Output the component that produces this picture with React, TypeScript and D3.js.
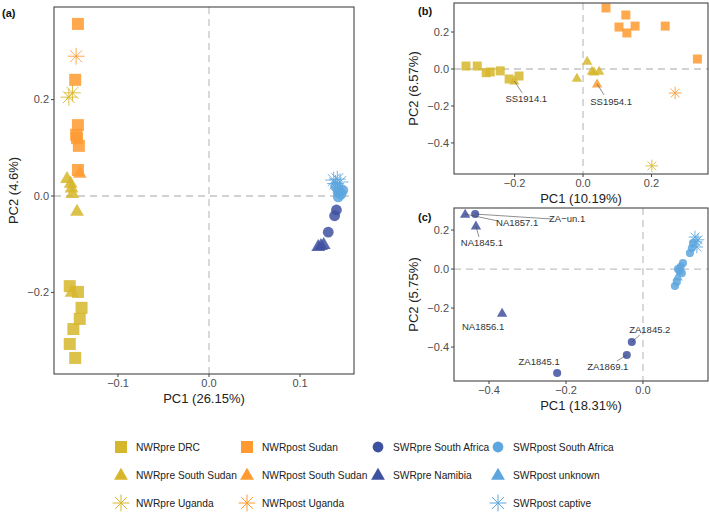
import * as d3 from 'd3'

// group names, legend order is column by column
const legendCols = [
  ['NWRpre DRC', 'NWRpre South Sudan', 'NWRpre Uganda'],
  ['NWRpost Sudan', 'NWRpost South Sudan', 'NWRpost Uganda'],
  ['SWRpre South Africa', 'SWRpre Namibia'],
  ['SWRpost South Africa', 'SWRpost unknown', 'SWRpost captive'],
]

// panel (a) PC1 / PC2 scores
const pointsA: [string, number, number][] = [
  ['NWRpre DRC', -0.153, -0.187], ['NWRpre DRC', -0.144, -0.199], ['NWRpre DRC', -0.140, -0.232],
  ['NWRpre DRC', -0.142, -0.255], ['NWRpre DRC', -0.149, -0.276], ['NWRpre DRC', -0.153, -0.307],
  ['NWRpre DRC', -0.147, -0.336],
  ['NWRpre South Sudan', -0.156, 0.037], ['NWRpre South Sudan', -0.152, 0.027], ['NWRpre South Sudan', -0.151, 0.017],
  ['NWRpre South Sudan', -0.150, 0.006], ['NWRpre South Sudan', -0.145, -0.031], ['NWRpre South Sudan', -0.151, -0.199],
  ['NWRpre Uganda', -0.150, 0.214], ['NWRpre Uganda', -0.154, 0.205],
  ['NWRpost Sudan', -0.144, 0.357], ['NWRpost Sudan', -0.147, 0.241], ['NWRpost Sudan', -0.144, 0.147],
  ['NWRpost Sudan', -0.146, 0.127], ['NWRpost Sudan', -0.145, 0.120], ['NWRpost Sudan', -0.143, 0.104],
  ['NWRpost Sudan', -0.144, 0.054],
  ['NWRpost South Sudan', -0.142, 0.048],
  ['NWRpost Uganda', -0.146, 0.290],
  ['SWRpre South Africa', 0.140, -0.029], ['SWRpre South Africa', 0.138, -0.041], ['SWRpre South Africa', 0.131, -0.075],
  ['SWRpre Namibia', 0.123, -0.102], ['SWRpre Namibia', 0.120, -0.104], ['SWRpre Namibia', 0.126, -0.100],
  ['SWRpost unknown', 0.144, 0.015],
  ['SWRpost captive', 0.137, 0.033], ['SWRpost captive', 0.141, 0.035], ['SWRpost captive', 0.144, 0.029],
  ['SWRpost captive', 0.139, 0.026],
  ['SWRpost South Africa', 0.142, 0.008], ['SWRpost South Africa', 0.145, 0.004], ['SWRpost South Africa', 0.142, -0.002],
  ['SWRpost South Africa', 0.147, 0.012], ['SWRpost South Africa', 0.139, 0.020],
]

// panel (b) NWR only
const pointsB: [string, number, number][] = [
  ['NWRpre DRC', -0.342, 0.016], ['NWRpre DRC', -0.309, 0.016], ['NWRpre DRC', -0.283, -0.020],
  ['NWRpre DRC', -0.271, -0.016], ['NWRpre DRC', -0.242, -0.010], ['NWRpre DRC', -0.216, -0.054],
  ['NWRpre DRC', -0.187, -0.038],
  ['NWRpre South Sudan', -0.201, -0.065], ['NWRpre South Sudan', 0.012, 0.043], ['NWRpre South Sudan', -0.018, -0.049],
  ['NWRpre South Sudan', 0.026, -0.011], ['NWRpre South Sudan', 0.032, -0.016], ['NWRpre South Sudan', 0.047, -0.011],
  ['NWRpre Uganda', 0.201, -0.524],
  ['NWRpost Sudan', 0.067, 0.330], ['NWRpost Sudan', 0.125, 0.292], ['NWRpost Sudan', 0.105, 0.227],
  ['NWRpost Sudan', 0.128, 0.195], ['NWRpost Sudan', 0.152, 0.232], ['NWRpost Sudan', 0.240, 0.232],
  ['NWRpost Sudan', 0.334, 0.054],
  ['NWRpost South Sudan', 0.041, -0.081],
  ['NWRpost Uganda', 0.269, -0.130],
]

// panel (c) SWR only
const pointsC: [string, number, number][] = [
  ['SWRpre Namibia', -0.462, 0.282], ['SWRpre Namibia', -0.434, 0.221], ['SWRpre Namibia', -0.366, -0.226],
  ['SWRpre South Africa', -0.436, 0.282], ['SWRpre South Africa', -0.029, -0.374],
  ['SWRpre South Africa', -0.042, -0.441], ['SWRpre South Africa', -0.223, -0.533],
  ['SWRpost unknown', 0.090, -0.040],
  ['SWRpost South Africa', 0.104, 0.031], ['SWRpost South Africa', 0.091, 0.000], ['SWRpost South Africa', 0.095, -0.010],
  ['SWRpost South Africa', 0.101, -0.021], ['SWRpost South Africa', 0.088, -0.067], ['SWRpost South Africa', 0.083, -0.087],
  ['SWRpost South Africa', 0.122, 0.082], ['SWRpost South Africa', 0.127, 0.108], ['SWRpost South Africa', 0.130, 0.133],
  ['SWRpost South Africa', 0.098, 0.012],
  ['SWRpost captive', 0.135, 0.164], ['SWRpost captive', 0.140, 0.113], ['SWRpost captive', 0.138, 0.140],
  ['SWRpost captive', 0.143, 0.150],
]

// sample labels [panel, label, pc1, pc2]
const sampleLabels: [string, string, number, number][] = [
  ['b', 'SS1914.1', -0.201, -0.065],
  ['b', 'SS1954.1', 0.041, -0.081],
  ['c', 'NA1857.1', -0.462, 0.282],
  ['c', 'ZA\u2212un.1', -0.436, 0.282],
  ['c', 'NA1845.1', -0.434, 0.221],
  ['c', 'NA1856.1', -0.366, -0.226],
  ['c', 'ZA1845.2', -0.029, -0.374],
  ['c', 'ZA1869.1', -0.042, -0.441],
  ['c', 'ZA1845.1', -0.223, -0.533],
]

const ticksA = { x: [-0.1, 0.0, 0.1], y: [-0.2, 0.0, 0.2] }
const ticksB = { x: [-0.2, 0.0, 0.2], y: [-0.4, -0.2, 0.0, 0.2] }
const ticksC = { x: [-0.4, -0.2, 0.0], y: [-0.4, -0.2, 0.0, 0.2] }

// label offsets in px: text centre and segment end
const labelLayout: Record<string, { tx: number; ty: number; lx?: number; ly?: number }> = {
  'SS1914.1': { tx: 12, ty: 18, lx: 8, ly: 12 },
  'SS1954.1': { tx: 14, ty: 18, lx: 7, ly: 11 },
  'NA1857.1': { tx: 52, ty: 9, lx: 33, ly: 7 },
  'ZA\u2212un.1': { tx: 92, ty: 5, lx: 77, ly: 5 },
  'NA1845.1': { tx: 6, ty: 17, lx: 3, ly: 11 },
  'NA1856.1': { tx: -19, ty: 14 },
  'ZA1845.2': { tx: 18, ty: -12, lx: 8, ly: -7 },
  'ZA1869.1': { tx: -19, ty: 12, lx: -10, ly: 6 },
  'ZA1845.1': { tx: -18, ty: -11 },
}

const colour = (g: string) =>
  g.startsWith('NWRpre') ? '#D6B62A' : g.startsWith('NWRpost') ? '#FF9A30' : g.startsWith('SWRpre') ? '#3E51A0' : '#5DA6DE'

const shape = (g: string) =>
  g.endsWith('Uganda') || g.endsWith('captive') ? 'star'
    : g.endsWith('South Sudan') || g.endsWith('Namibia') || g.endsWith('unknown') ? 'tri'
    : g.startsWith('SWR') ? 'circle' : 'square'

const font = '"Liberation Sans", Arial, Helvetica, sans-serif'

function Mark({ g, x, y, s, legend }: { g: string; x: number; y: number; s: number; legend?: boolean }) {
  const c = colour(g)
  const op = legend ? 1 : 0.85
  const k = shape(g)
  if (k === 'square') return <rect x={x - s / 2} y={y - s / 2} width={s} height={s} fill={c} fillOpacity={op} />
  if (k === 'circle') return <circle cx={x} cy={y} r={s * 0.45} fill={c} fillOpacity={op} />
  if (k === 'tri') {
    const w = s * 1.15, h = w * 0.87
    return <path d={`M${x},${y - h * 0.6}L${x + w / 2},${y + h * 0.4}L${x - w / 2},${y + h * 0.4}Z`} fill={c} fillOpacity={op} />
  }
  const r = s * 0.7
  const d = d3.range(4).map(i => {
    const a = (i * Math.PI) / 4
    const dx = Math.cos(a) * r, dy = Math.sin(a) * r
    return `M${x - dx},${y - dy}L${x + dx},${y + dy}`
  }).join('')
  return <path d={d} stroke={c} strokeWidth={1} strokeOpacity={op} fill="none" />
}

type PanelProps = {
  tag: string; id: string
  box: { l: number; t: number; r: number; b: number }
  xDom: [number, number]; yDom: [number, number]
  ticks: { x: number[]; y: number[] }
  pts: [string, number, number][]
  xTitle: string; yTitle: string
  size: number
  tagPos: [number, number]
}

function Panel(p: PanelProps) {
  const x = d3.scaleLinear().domain(p.xDom).range([p.box.l, p.box.r])
  const y = d3.scaleLinear().domain(p.yDom).range([p.box.b, p.box.t])
  const fmt = d3.format('.1f')
  const lab = (v: number) => fmt(v).replace('-', '\u2212')
  const labels = sampleLabels.filter(d => d[0] === p.id)
  return (
    <g fontFamily={font}>
      <line x1={x(0)} x2={x(0)} y1={p.box.t} y2={p.box.b} stroke="#c4c4c4" strokeWidth={1.3} strokeDasharray="7,5" />
      <line x1={p.box.l} x2={p.box.r} y1={y(0)} y2={y(0)} stroke="#c4c4c4" strokeWidth={1.3} strokeDasharray="7,5" />
      {p.pts.map((d, i) => <Mark key={i} g={d[0]} x={x(d[1])} y={y(d[2])} s={p.size} />)}
      {labels.map(d => {
        const o = labelLayout[d[1]]
        const px = x(d[2]), py = y(d[3])
        return (
          <g key={d[1]}>
            {o.lx !== undefined && <line x1={px} y1={py} x2={px + o.lx} y2={py + (o.ly || 0)} stroke="#444" strokeWidth={0.6} />}
            <text x={px + o.tx} y={py + o.ty} dy="0.35em" textAnchor="middle" fontSize={9.5} fill="#333">{d[1]}</text>
          </g>
        )
      })}
      <rect x={p.box.l} y={p.box.t} width={p.box.r - p.box.l} height={p.box.b - p.box.t} fill="none" stroke="#444" strokeWidth={1.1} />
      {p.ticks.x.map(v => (
        <g key={'x' + v}>
          <line x1={x(v)} x2={x(v)} y1={p.box.b} y2={p.box.b + 3} stroke="#444" />
          <text x={x(v)} y={p.box.b + 13} textAnchor="middle" fontSize={11} fill="#4d4d4d">{lab(v)}</text>
        </g>
      ))}
      {p.ticks.y.map(v => (
        <g key={'y' + v}>
          <line x1={p.box.l - 3} x2={p.box.l} y1={y(v)} y2={y(v)} stroke="#444" />
          <text x={p.box.l - 5} y={y(v)} dy="0.35em" textAnchor="end" fontSize={11} fill="#4d4d4d">{lab(v)}</text>
        </g>
      ))}
      <text x={(p.box.l + p.box.r) / 2} y={p.box.b + 29} textAnchor="middle" fontSize={13} fill="#222">{p.xTitle}</text>
      <text transform={`translate(${p.box.l - 36},${(p.box.t + p.box.b) / 2}) rotate(-90)`} textAnchor="middle" fontSize={13} fill="#222">{p.yTitle}</text>
      <text x={p.tagPos[0]} y={p.tagPos[1]} fontSize={11} fontWeight="bold" fill="#111">{p.tag}</text>
    </g>
  )
}

export default function App() {
  const colX = [121, 247, 378, 498]
  const rowY = [447, 475, 503]
  return (
    <svg width={709} height={512} style={{ position: 'absolute', left: 0, top: 0, background: '#fff' }}>
      <rect width={709} height={512} fill="#fff" />
      <Panel tag="(a)" id="a" box={{ l: 54, t: 7, r: 354, b: 374 }} xDom={[-0.1703, 0.1593]} yDom={[-0.3693, 0.3921]}
        ticks={ticksA} pts={pointsA} xTitle="PC1 (26.15%)" yTitle="PC2 (4.6%)" size={12} tagPos={[2, 17]} />
      <Panel tag="(b)" id="b" box={{ l: 454, t: 3, r: 708, b: 174 }} xDom={[-0.377, 0.365]} yDom={[-0.568, 0.357]}
        ticks={ticksB} pts={pointsB} xTitle="PC1 (10.19%)" yTitle="PC2 (6.57%)" size={9} tagPos={[418, 15]} />
      <Panel tag="(c)" id="c" box={{ l: 454, t: 208, r: 708, b: 381 }} xDom={[-0.491, 0.169]} yDom={[-0.574, 0.313]}
        ticks={ticksC} pts={pointsC} xTitle="PC1 (18.31%)" yTitle="PC2 (5.75%)" size={9} tagPos={[418, 221]} />
      <g fontFamily={font}>
        {legendCols.map((col, ci) => col.map((g, ri) => (
          <g key={g}>
            <Mark g={g} x={colX[ci]} y={rowY[ri]} s={12} legend />
            <text x={colX[ci] + 15} y={rowY[ri]} dy="0.35em" fontSize={10.2} fill="#222">{g}</text>
          </g>
        )))}
      </g>
    </svg>
  )
}
